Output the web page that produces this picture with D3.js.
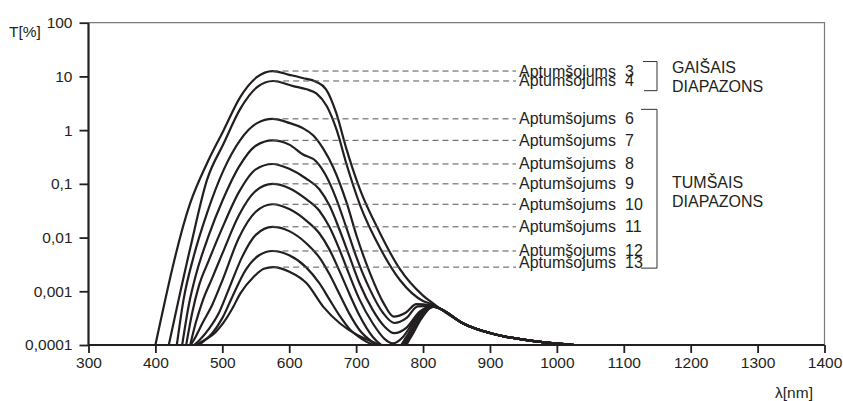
<!DOCTYPE html>
<html><head><meta charset="utf-8">
<script src="https://cdn.jsdelivr.net/npm/d3@7"></script>
<style>
body{margin:0;background:#fff}
text{font-family:"Liberation Sans",Arial,Helvetica,sans-serif;fill:#231f20}
</style>
</head><body><svg id="c" width="843" height="401"></svg>
<script>
// ---------- data ----------
const xTicks = [300,400,500,600,700,800,900,1000,1100,1200,1300,1400];
const yTicks = [100,10,1,0.1,0.01,0.001,0.0001];
const yTickLabels = ["100","10","1","0,1","0,01","0,001","0,0001"];
const seriesNames = ["3","4","6","7","8","9","10","11","12","13"];
const seriesLabel = "Aptumšojums";
const groupNames = [["GAIŠAIS","DIAPAZONS"],["TUMŠAIS","DIAPAZONS"]];
const groupMembers = [[0,1],[2,9]];

// values are log10(T[%]) at wavelength [nm]
const tail = [[825,-3.32],[860,-3.60],[910,-3.81],[960,-3.92],[1000,-3.975],[1027,-4.0]];
const curve3 = [[400,-4],[452,-1.36],[477,-0.62],[502,0.0],[527,0.62],[552,0.99],[575,1.10],[600,1.03],[620,0.97],[640,0.90],[655,0.76],[670,0.33],[685,-0.33],[705,-1.08],[735,-1.90],[765,-2.58],[800,-3.08],[811,-3.19]];
const curve4 = [[420,-4],[452,-2.2],[477,-0.93],[502,-0.25],[527,0.40],[552,0.80],[576,0.915],[606,0.82],[626,0.76],[641,0.68],[656,0.45],[671,0.0],[686,-0.65],[706,-1.40],[736,-2.20],[766,-2.80],[800,-3.18],[811,-3.23]];
const curve6 = [[432,-4],[442,-3.16],[457,-2.36],[477,-1.55],[502,-0.74],[527,-0.18],[552,0.13],[575,0.21],[601,0.13],[620,0.04],[636,-0.10],[651,-0.35],[666,-0.70],[686,-1.36],[701,-1.98],[721,-2.67],[741,-3.22],[756,-3.47],[774,-3.40],[790,-3.24],[811,-3.26]];
const curve7 = [[440,-4],[450,-3.25],[460,-2.72],[480,-1.95],[500,-1.32],[525,-0.68],[550,-0.29],[575,-0.19],[600,-0.27],[620,-0.45],[640,-0.58],[655,-0.85],[670,-1.27],[685,-1.80],[700,-2.35],[720,-2.95],[740,-3.40],[757,-3.59],[775,-3.50],[792,-3.28],[811,-3.27]];
const curve8 = [[446,-4],[455,-3.4],[465,-2.9],[480,-2.42],[500,-1.82],[525,-1.15],[550,-0.73],[575,-0.63],[600,-0.72],[625,-0.90],[645,-1.10],[660,-1.40],[675,-1.85],[690,-2.35],[705,-2.85],[725,-3.35],[742,-3.65],[757,-3.78],[775,-3.68],[795,-3.38],[812,-3.28]];
const curve9 = [[452,-4],[460,-3.6],[470,-3.2],[485,-2.75],[500,-2.30],[525,-1.58],[550,-1.13],[575,-1.00],[600,-1.08],[625,-1.28],[645,-1.50],[660,-1.80],[675,-2.22],[690,-2.70],[705,-3.15],[725,-3.60],[742,-3.88],[755,-3.97],[770,-3.85],[785,-3.58],[800,-3.35],[813,-3.28]];
const curve10 = [[450,-4.05],[460,-3.85],[470,-3.6],[485,-3.25],[500,-2.8],[525,-2.0],[550,-1.52],[575,-1.38],[600,-1.47],[625,-1.68],[645,-1.92],[660,-2.22],[675,-2.62],[690,-3.05],[705,-3.45],[725,-3.85],[745,-4.05],[760,-4.08],[775,-3.85],[790,-3.52],[805,-3.32],[815,-3.28]];
const curve11 = [[450,-4.08],[465,-3.92],[480,-3.7],[495,-3.4],[510,-2.95],[530,-2.35],[550,-1.95],[575,-1.80],[600,-1.88],[625,-2.10],[645,-2.37],[660,-2.68],[675,-3.05],[690,-3.42],[705,-3.72],[725,-3.95],[745,-4.1],[762,-4.1],[778,-3.85],[793,-3.52],[807,-3.32],[816,-3.28]];
const curve12 = [[450,-4.1],[470,-3.95],[485,-3.78],[500,-3.5],[515,-3.1],[535,-2.6],[555,-2.33],[575,-2.25],[600,-2.33],[625,-2.55],[645,-2.85],[660,-3.15],[675,-3.45],[690,-3.70],[710,-3.90],[730,-4.02],[750,-4.1],[765,-4.1],[780,-3.85],[795,-3.52],[808,-3.32],[817,-3.28]];
const curve13 = [[450,-4.1],[465,-3.97],[477,-3.88],[490,-3.76],[502,-3.58],[515,-3.32],[527,-3.04],[547,-2.73],[562,-2.58],[576,-2.55],[601,-2.64],[626,-2.85],[651,-3.29],[676,-3.60],[701,-3.81],[726,-3.95],[740,-4.03],[755,-4.12],[768,-4.1],[782,-3.85],[797,-3.52],[810,-3.32],[818,-3.28]];
const curves = [curve3,curve4,curve6,curve7,curve8,curve9,curve10,curve11,curve12,curve13];

// ---------- layout ----------
const L = 88.5, R = 824.5, T = 22.7, B = 345;
const labelX = 519, numX = 625, dashEnd = 516;
const FS = 16, TFS = 15.5;
const svg = d3.select("#c");
const x = d3.scaleLinear().domain([300,1400]).range([L,R]);
const y = d3.scaleLog().domain([0.0001,100]).range([B,T]);

// frame (top/right thin grey)
svg.append("path").attr("d",`M${L},${T}H${R}V${B}`).attr("fill","none").attr("stroke","#7a7a7a").attr("stroke-width",1.2);

// curves
svg.append("clipPath").attr("id","clip").append("rect").attr("x",L).attr("y",T).attr("width",R-L).attr("height",B-T);
const line = d3.line().x(d=>x(d[0])).y(d=>y(Math.pow(10,d[1]))).curve(d3.curveMonotoneX);
const g = svg.append("g").attr("clip-path","url(#clip)");
curves.forEach(c=>{
  g.append("path").attr("d",line(c.concat(tail))).attr("fill","none")
   .attr("stroke","#231f20").attr("stroke-width",2.2).attr("stroke-linejoin","round");
});

// axes
const ax = svg.append("g").attr("transform",`translate(0,${B})`)
  .call(d3.axisBottom(x).tickValues(xTicks).tickSize(8).tickPadding(4).tickFormat(d=>d));
const ay = svg.append("g").attr("transform",`translate(${L},0)`)
  .call(d3.axisLeft(y).tickValues(yTicks).tickSize(9).tickPadding(7).tickFormat((d,i)=>yTickLabels[i]));
[ax,ay].forEach(a=>{
  a.select(".domain").attr("stroke","#231f20").attr("stroke-width",2.2);
  a.selectAll(".tick line").attr("stroke","#231f20").attr("stroke-width",1.8);
  a.selectAll(".tick text").attr("font-size",TFS).attr("fill","#231f20")
   .attr("font-family","'Liberation Sans',Arial,sans-serif");
});
ax.select(".domain").attr("d",`M${L},0H${R}`);
ay.select(".domain").attr("d",`M0,${T}V${B}`);

svg.append("text").attr("x",9).attr("y",37).attr("font-size",TFS).text("T[%]");
svg.append("text").attr("x",794).attr("y",398).attr("text-anchor","middle").attr("font-size",TFS).text("λ[nm]");

// labels with dashed leaders
const lineYs = curves.map(c=>y(Math.pow(10,d3.max(c,d=>d[1]))));
curves.forEach((c,i)=>{
  const pk = c.reduce((a,b)=>b[1]>a[1]?b:a);
  const ly = lineYs[i];
  svg.append("line").attr("x1",x(pk[0])).attr("x2",dashEnd).attr("y1",ly).attr("y2",ly)
    .attr("stroke","#555").attr("stroke-width",1).attr("stroke-dasharray","6,4");
  const ty = ly + (i===9 ? 1 : 5.5);
  svg.append("text").attr("x",labelX).attr("y",ty).attr("font-size",FS).text(seriesLabel);
  svg.append("text").attr("x",numX).attr("y",ty).attr("font-size",FS).text(seriesNames[i]);
});

// brackets + group names
groupMembers.forEach((m,gi)=>{
  const top = lineYs[m[0]] - 9.5;
  const bot = gi===0 ? lineYs[m[1]] + 9.7 : lineYs[m[1]] + 1;
  const bx = 657;
  svg.append("path").attr("d",`M${gi===0?643:641},${top}H${bx}V${bot}H${gi===0?644:641}`)
    .attr("fill","none").attr("stroke","#333").attr("stroke-width",1);
  const cy = gi===0 ? (top+bot)/2 : (lineYs[5]+lineYs[6])/2 - 3;
  groupNames[gi].forEach((t,k)=>{
    svg.append("text").attr("x",672).attr("y",cy - 3 + k*18.5).attr("font-size",FS).text(t);
  });
});
</script>
</body></html>
